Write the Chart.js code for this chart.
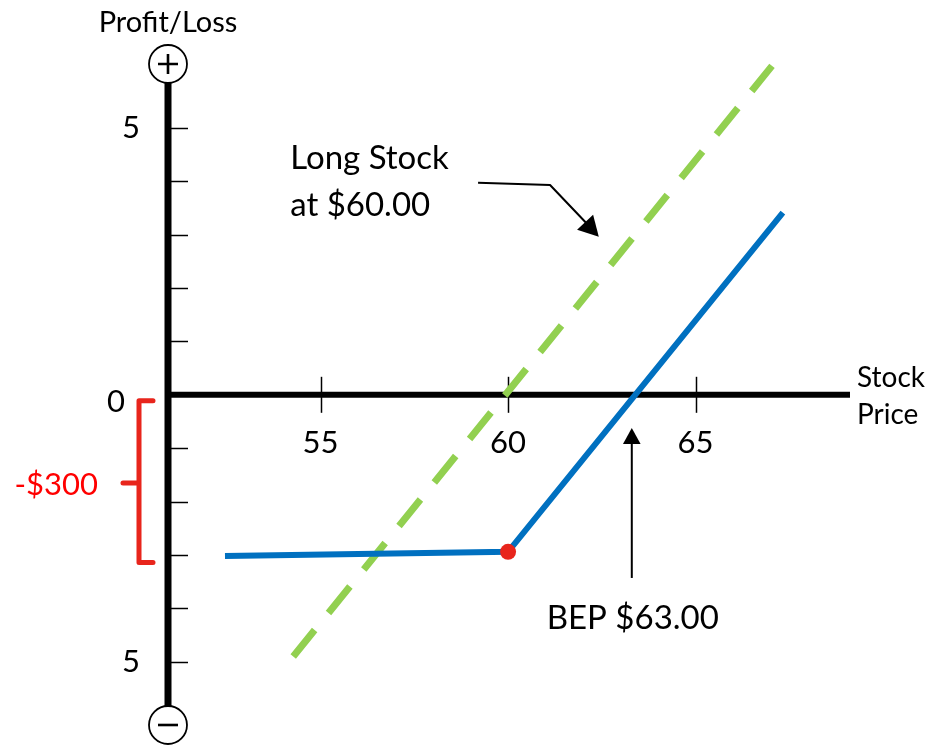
<!DOCTYPE html>
<html>
<head>
<meta charset="utf-8">
<script src="https://cdn.jsdelivr.net/npm/chart.js@4.4.1/dist/chart.umd.min.js"></script>
<style>
  html, body { margin: 0; padding: 0; background: #ffffff; }
  #wrap { width: 930px; height: 746px; }
</style>
</head>
<body>
<div id="wrap"><canvas id="chart" width="930" height="746"></canvas></div>
<script>
// position: long stock + long put
const stockPrices = [52.45, 60, 67.33];
const positionPL = [-3.02, -2.94, 3.41];
const longStockPrices = [54.27, 67.04];
const longStockPL = [-4.9, 6.16];
const kinkPoint = [{ x: 60, y: -2.94 }];
const xTicks = [55, 60, 65];
const yTicks = [-5, -4, -3, -2, -1, 1, 2, 3, 4, 5];
const yTickLabels = { "5": "5", "0": "0", "-5": "5" };

const FONT = "Lato, 'Liberation Sans', sans-serif";

function pairs(xs, ys) {
  return xs.map((x, i) => ({ x: x, y: ys[i] }));
}

function arrowHead(ctx, x, y, angle, size) {
  ctx.save();
  ctx.translate(x, y);
  ctx.rotate(angle);
  ctx.beginPath();
  ctx.moveTo(0, 0);
  ctx.lineTo(-size, -size * 0.55);
  ctx.lineTo(-size, size * 0.55);
  ctx.closePath();
  ctx.fill();
  ctx.restore();
}

const axesPlugin = {
  id: "payoffAxes",
  beforeDatasetsDraw(chart) {
    const ctx = chart.ctx;
    const xs = chart.scales.x;
    const ys = chart.scales.y;
    const x0 = xs.left + 3;
    const y0 = ys.getPixelForValue(0);
    const topC = 64, botC = 725, rC = 19;

    ctx.save();
    ctx.strokeStyle = "#000";

    // small ticks on the y axis
    ctx.lineWidth = 1.5;
    yTicks.forEach((v) => {
      const py = Math.round(ys.getPixelForValue(v)) + 0.5;
      ctx.beginPath();
      ctx.moveTo(x0, py);
      ctx.lineTo(x0 + 20, py);
      ctx.stroke();
    });
    // ticks on the x axis
    xTicks.forEach((v) => {
      const px = Math.round(xs.getPixelForValue(v)) + 0.5;
      ctx.beginPath();
      ctx.moveTo(px, y0 - 18);
      ctx.lineTo(px, y0 + 18);
      ctx.stroke();
    });

    // main axes
    ctx.lineWidth = 7;
    ctx.beginPath();
    ctx.moveTo(x0, topC + rC);
    ctx.lineTo(x0, botC - rC);
    ctx.stroke();
    ctx.lineWidth = 6;
    ctx.beginPath();
    ctx.moveTo(x0, y0);
    ctx.lineTo(xs.right, y0);
    ctx.stroke();

    // + and - circles
    [[topC, "+"], [botC, "-"]].forEach(([cy, s]) => {
      ctx.lineWidth = 1.8;
      ctx.fillStyle = "#fff";
      ctx.beginPath();
      ctx.arc(x0, cy, rC, 0, Math.PI * 2);
      ctx.fill();
      ctx.stroke();
      ctx.lineWidth = 2.6;
      ctx.beginPath();
      ctx.moveTo(x0 - 10, cy);
      ctx.lineTo(x0 + 10, cy);
      if (s === "+") {
        ctx.moveTo(x0, cy - 10);
        ctx.lineTo(x0, cy + 10);
      }
      ctx.stroke();
    });

    // tick labels
    ctx.fillStyle = "#000";
    ctx.font = "31px " + FONT;
    ctx.textAlign = "center";
    ctx.textBaseline = "alphabetic";
    xTicks.forEach((v) => {
      ctx.fillText(String(v), xs.getPixelForValue(v), y0 + 58);
    });
    Object.keys(yTickLabels).forEach((k) => {
      const v = Number(k);
      const lx = v === 0 ? x0 - 52 : x0 - 37;
      ctx.fillText(yTickLabels[k], lx, ys.getPixelForValue(v) + (v === 0 ? 17 : 10));
    });

    // axis titles
    ctx.font = "29px " + FONT;
    ctx.fillText("Profit/Loss", x0, 32);
    ctx.font = "28px " + FONT;
    ctx.textAlign = "left";
    ctx.fillText("Stock", xs.right + 7, y0 - 8);
    ctx.fillText("Price", xs.right + 7, y0 + 29);

    // red bracket showing max loss
    const bTop = y0 + 6;
    const bBot = ys.getPixelForValue(-3.14);
    const bMid = 483;
    ctx.strokeStyle = "#e8251c";
    ctx.lineWidth = 5;
    ctx.lineJoin = "round";
    ctx.lineCap = "round";
    ctx.beginPath();
    ctx.moveTo(x0 - 15, bTop);
    ctx.lineTo(x0 - 29, bTop);
    ctx.lineTo(x0 - 29, bBot);
    ctx.lineTo(x0 - 15, bBot);
    ctx.moveTo(x0 - 29, bMid);
    ctx.lineTo(x0 - 45, bMid);
    ctx.stroke();
    ctx.lineCap = "butt";
    ctx.fillStyle = "#ff0000";
    ctx.font = "31px " + FONT;
    ctx.textAlign = "right";
    ctx.fillText("-$300", x0 - 70, 495);

    // "Long Stock" annotation with arrow
    ctx.fillStyle = "#000";
    ctx.strokeStyle = "#000";
    ctx.font = "33px " + FONT;
    ctx.textAlign = "left";
    const tx = xs.getPixelForValue(54.19);
    ctx.fillText("Long Stock", tx, ys.getPixelForValue(4.22));
    ctx.fillText("at $60.00", tx, ys.getPixelForValue(3.35));
    const ax1 = xs.getPixelForValue(59.2), ay1 = ys.getPixelForValue(3.97);
    const ax2 = xs.getPixelForValue(61.12), ay2 = ys.getPixelForValue(3.93);
    const ax3 = xs.getPixelForValue(62.42), ay3 = ys.getPixelForValue(2.96);
    ctx.lineWidth = 2;
    ctx.beginPath();
    ctx.moveTo(ax1, ay1);
    ctx.lineTo(ax2, ay2);
    ctx.lineTo(ax3 - 8, ay3 - 9);
    ctx.stroke();
    arrowHead(ctx, ax3, ay3, Math.atan2(ay3 - ay2, ax3 - ax2), 20);

    // break-even arrow
    const bx = xs.getPixelForValue(63.3);
    const byTip = ys.getPixelForValue(-0.62);
    const byEnd = ys.getPixelForValue(-3.43);
    ctx.beginPath();
    ctx.moveTo(bx, byEnd);
    ctx.lineTo(bx, byTip + 10);
    ctx.stroke();
    arrowHead(ctx, bx, byTip, -Math.PI / 2, 16);
    ctx.textAlign = "center";
    ctx.fillText("BEP $63.00", bx + 1, ys.getPixelForValue(-4.38));

    ctx.restore();
  }
};

const ctx = document.getElementById("chart").getContext("2d");
new Chart(ctx, {
  type: "scatter",
  data: {
    datasets: [
      {
        label: "Long Stock at $60.00",
        data: pairs(longStockPrices, longStockPL),
        showLine: true,
        borderColor: "#92d050",
        borderWidth: 7,
        borderDash: [34, 22],
        borderCapStyle: "butt",
        pointRadius: 0,
        order: 3
      },
      {
        label: "Position",
        data: pairs(stockPrices, positionPL),
        showLine: true,
        borderColor: "#0070c0",
        borderWidth: 6,
        pointRadius: 0,
        order: 2
      },
      {
        label: "Strike",
        data: kinkPoint,
        showLine: false,
        pointRadius: 8,
        pointBackgroundColor: "#e8251c",
        pointBorderWidth: 0,
        order: 1
      }
    ]
  },
  options: {
    responsive: false,
    animation: false,
    layout: { padding: { left: 165, right: 80, top: 60, bottom: 26 } },
    plugins: {
      legend: { display: false },
      tooltip: { enabled: false },
      title: { display: false }
    },
    scales: {
      x: { type: "linear", min: 50.85, max: 69.12, display: false },
      y: { type: "linear", min: -6.09, max: 6.27, display: false }
    }
  },
  plugins: [axesPlugin]
});
</script>
</body>
</html>
